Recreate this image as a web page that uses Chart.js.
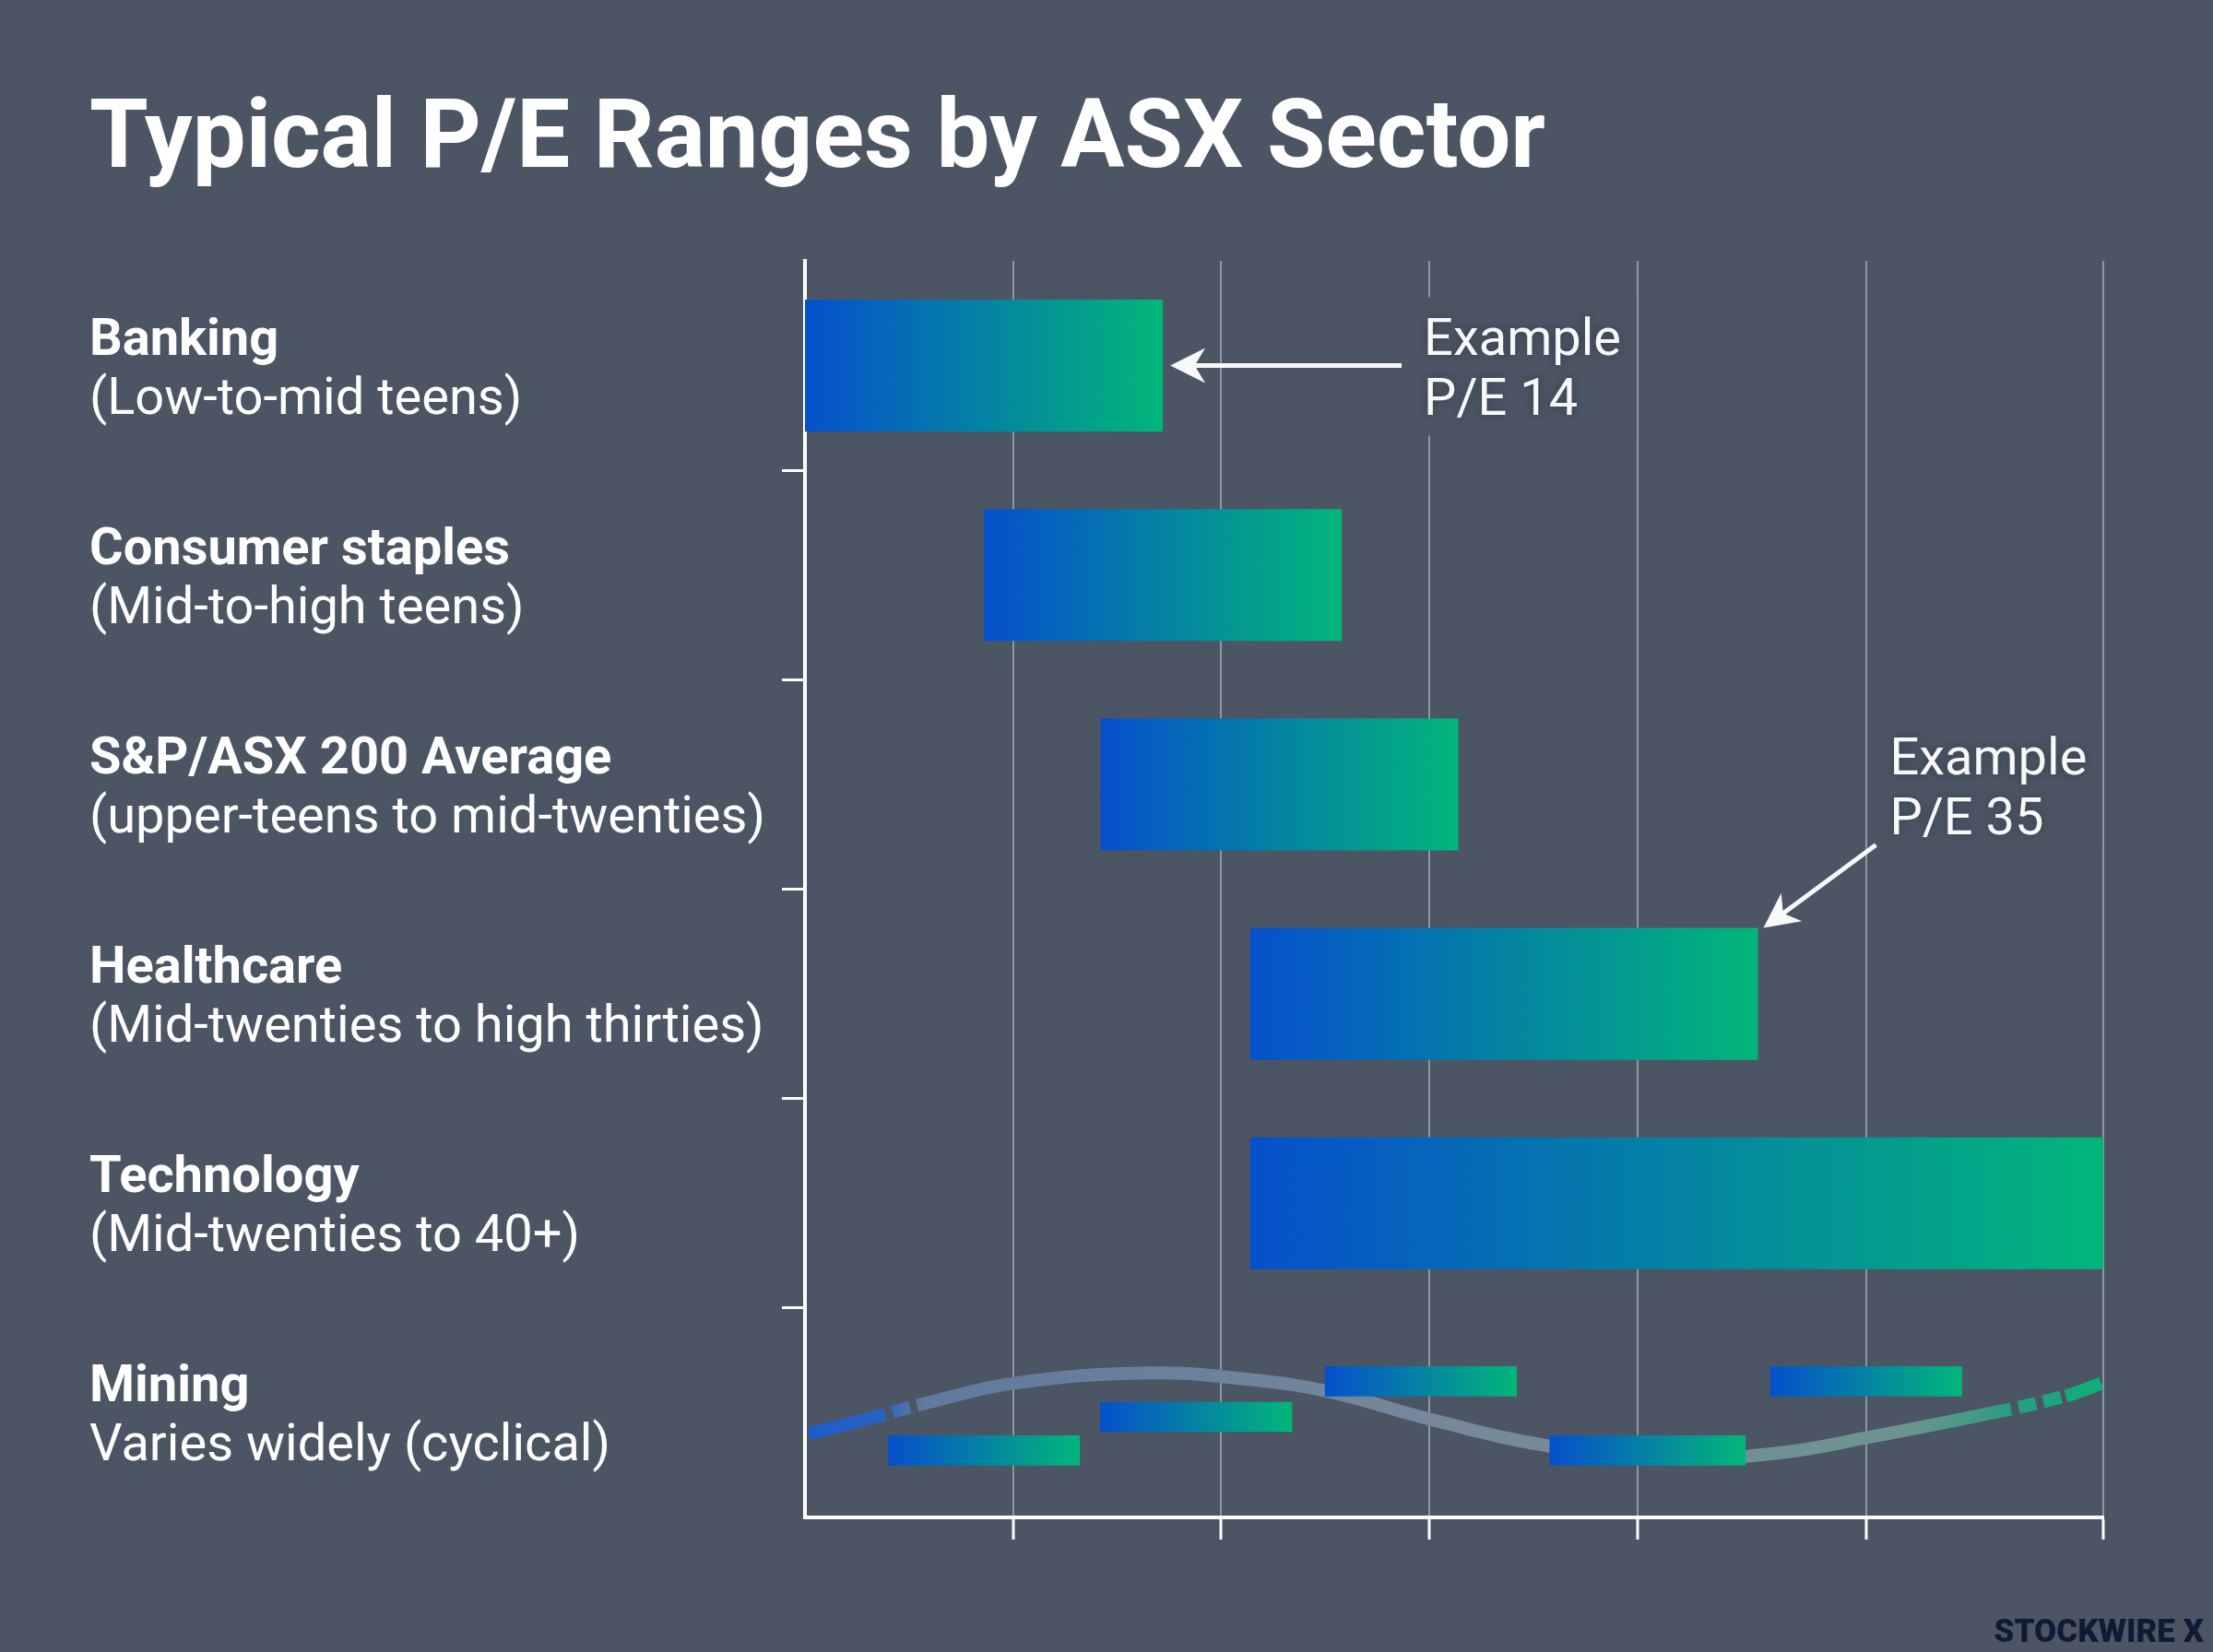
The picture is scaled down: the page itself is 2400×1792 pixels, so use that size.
<!DOCTYPE html>
<html>
<head>
<meta charset="utf-8">
<script src="https://cdn.jsdelivr.net/npm/chart.js@4.4.1/dist/chart.umd.min.js"></script>
<style>
  html, body { margin: 0; padding: 0; background: #4b5563; }
  #wrap { position: relative; width: 2400px; height: 1792px; }
</style>
</head>
<body>
<div id="wrap"><canvas id="peChart"></canvas></div>
<script>
const chartTitle = 'Typical P/E Ranges by ASX Sector';
const sectorNames = ['Banking', 'Consumer staples', 'S&P/ASX 200 Average', 'Healthcare', 'Technology', 'Mining'];
const sectorNotes = ['(Low-to-mid teens)', '(Mid-to-high teens)', '(upper-teens to mid-twenties)',
  '(Mid-twenties to high thirties)', '(Mid-twenties to 40+)', 'Varies widely (cyclical)'];

// P/E ranges (low, high) for the first five sectors
const peLow  = [10.0, 14.3, 17.1, 20.7, 20.7];
const peHigh = [18.6, 22.9, 25.7, 32.9, 41.2];

// Mining: scattered short ranges + cycle line
const miningLow   = [12.0, 17.1, 22.5, 27.9, 33.2];
const miningHigh  = [16.6, 21.7, 27.1, 32.6, 37.8];
const miningLevel = [5.18, 5.02, 4.85, 5.18, 4.85];
const cycleX = [10.1, 11.5, 12.8, 15.0, 18.3, 20.6, 22.6, 25.0, 27.9, 31.0, 33.5, 35.5, 38.55, 40.3, 41.15];
const cycleY = [5.10, 5.03, 4.96, 4.86, 4.81, 4.84, 4.90, 5.03, 5.16, 5.22, 5.19, 5.12, 5.00, 4.92, 4.86];

const gridTicks = [10, 15, 20, 25, 30, 35.5, 41.2];
const exampleLabels = [['Example', 'P/E 14'], ['Example', 'P/E 35']];
const exampleBars = [0, 3];

const BG = '#4b5563';

function barGradient(ctx) {
  const chart = ctx.chart;
  if (!chart.chartArea || !ctx.raw) return '#0a7fa8';
  const range = Array.isArray(ctx.raw) ? ctx.raw : ctx.raw.x;
  const xs = chart.scales.x;
  const g = chart.ctx.createLinearGradient(xs.getPixelForValue(range[0]), 0, xs.getPixelForValue(range[1]), 0);
  g.addColorStop(0, '#0650cc');
  g.addColorStop(1, '#02b679');
  return g;
}

function cycleGradient(ctx) {
  const chart = ctx.chart;
  const a = chart.chartArea;
  if (!a) return '#76879a';
  const g = chart.ctx.createLinearGradient(a.left, 0, a.right, 0);
  g.addColorStop(0, '#1d5ccc');
  g.addColorStop(0.06, '#2a62c0');
  g.addColorStop(0.09, '#5f7a9e');
  g.addColorStop(0.5, '#77889a');
  g.addColorStop(0.85, '#6d948f');
  g.addColorStop(0.93, '#2a9d80');
  g.addColorStop(1, '#0bb079');
  return g;
}

function drawArrow(c, x1, y1, x2, y2, head, half) {
  const ang = Math.atan2(y2 - y1, x2 - x1);
  const cos = Math.cos(ang), sin = Math.sin(ang);
  c.beginPath();
  c.moveTo(x1, y1);
  c.lineTo(x2 - cos * head * 0.7, y2 - sin * head * 0.7);
  c.stroke();
  c.beginPath();
  c.moveTo(x2, y2);
  c.lineTo(x2 - cos * head - sin * half, y2 - sin * head + cos * half);
  c.lineTo(x2 - cos * head * 0.7, y2 - sin * head * 0.7);
  c.lineTo(x2 - cos * head + sin * half, y2 - sin * head - cos * half);
  c.closePath();
  c.fill();
}

const textLayer = {
  id: 'textLayer',
  afterDraw(chart) {
    const c = chart.ctx;
    const ys = chart.scales.y;
    c.save();
    c.textAlign = 'left';
    c.textBaseline = 'alphabetic';
    c.fillStyle = '#ffffff';
    c.font = '700 103px Roboto';
    c.fillText(chartTitle, 97, 181);

    sectorNames.forEach((name, i) => {
      const cy = ys.getPixelForValue(i);
      c.font = '700 56px Roboto';
      c.fillText(name, 97, cy - 12);
      c.font = '400 56px Roboto';
      c.fillText(sectorNotes[i], 97, cy + 52);
    });

    // example annotations
    const meta = chart.getDatasetMeta(0);
    exampleBars.forEach((bi, k) => {
      const el = meta.data[bi];
      let tip, tail, tx, ty;
      if (k === 0) {
        tip = [el.x + 8, el.y];
        tail = [el.x + 259, el.y];
        tx = el.x + 283; ty = el.y - 12;
      } else {
        tip = [el.x + 6, el.y - el.height / 2];
        tail = [tip[0] + 122, tip[1] - 90];
        tx = tip[0] + 137; ty = tip[1] - 167;
      }
      c.fillStyle = BG;
      c.fillRect(tx - 10, ty - 62, 240, 150);
      c.fillStyle = '#f7f8f9';
      c.strokeStyle = '#f7f8f9';
      c.lineWidth = 5;
      drawArrow(c, tail[0], tail[1], tip[0], tip[1], 38, 19);
      c.font = '400 56px Roboto';
      c.shadowColor = 'rgba(20,25,35,0.35)';
      c.shadowBlur = 10;
      c.fillText(exampleLabels[k][0], tx, ty);
      c.fillText(exampleLabels[k][1], tx, ty + 65);
      c.shadowBlur = 0;
    });

    c.fillStyle = '#0f1b36';
    c.textAlign = 'right';
    c.font = '900 35px Roboto';
    c.fillText('STOCKWIRE X', 2390, 1781);
    c.restore();
  }
};

new Chart(document.getElementById('peChart'), {
  type: 'bar',
  data: {
    labels: sectorNames,
    datasets: [
      {
        label: 'P/E range',
        data: peLow.map((l, i) => [l, peHigh[i]]).concat([null]),
        backgroundColor: barGradient,
        categoryPercentage: 1,
        barPercentage: 0.63,
        grouped: false,
        borderWidth: 0,
        order: 1
      },
      {
        label: 'Mining ranges',
        data: miningLow.map((l, i) => ({ x: [l, miningHigh[i]], y: miningLevel[i] })),
        yAxisID: 'yM',
        backgroundColor: barGradient,
        barThickness: 32,
        grouped: false,
        borderWidth: 0,
        order: 1
      },
      {
        type: 'line',
        label: 'Mining cycle',
        indexAxis: 'x',
        data: cycleX.map((x, i) => ({ x: x, y: cycleY[i] })),
        xAxisID: 'x',
        yAxisID: 'yM',
        borderColor: cycleGradient,
        borderWidth: 14,
        borderCapStyle: 'butt',
        tension: 0.4,
        pointRadius: 0,
        fill: false,
        segment: {
          borderDash: ctx => (ctx.p0DataIndex === 1 || ctx.p0DataIndex === 12) ? [20, 8] : undefined
        },
        order: 3
      }
    ]
  },
  options: {
    indexAxis: 'y',
    responsive: true,
    maintainAspectRatio: false,
    animation: false,
    layout: { padding: { left: 848, right: 119, top: 283, bottom: 122 } },
    plugins: { legend: { display: false }, tooltip: { enabled: false } },
    scales: {
      x: {
        type: 'linear',
        min: 10,
        max: 41.2,
        afterBuildTicks: s => { s.ticks = gridTicks.map(v => ({ value: v })); },
        ticks: { display: false },
        grid: {
          color: ctx => ctx.index === 0 ? 'rgba(0,0,0,0)' : 'rgba(185,194,205,0.6)',
          lineWidth: 2,
          tickLength: 24,
          tickWidth: 3,
          tickColor: ctx => ctx.index === 0 ? 'rgba(0,0,0,0)' : '#ffffff'
        },
        border: { color: '#ffffff', width: 4 }
      },
      y: {
        type: 'category',
        ticks: { display: false },
        grid: {
          offset: true,
          drawOnChartArea: false,
          tickLength: 25,
          tickWidth: 3,
          tickColor: ctx => (ctx.index >= 1 && ctx.index <= 5) ? '#ffffff' : 'rgba(0,0,0,0)'
        },
        border: { color: '#ffffff', width: 4 }
      },
      yM: { type: 'linear', display: false, offset: false, min: -0.5, max: 5.5, reverse: true }
    }
  },
  plugins: [textLayer]
});
</script>
</body>
</html>
